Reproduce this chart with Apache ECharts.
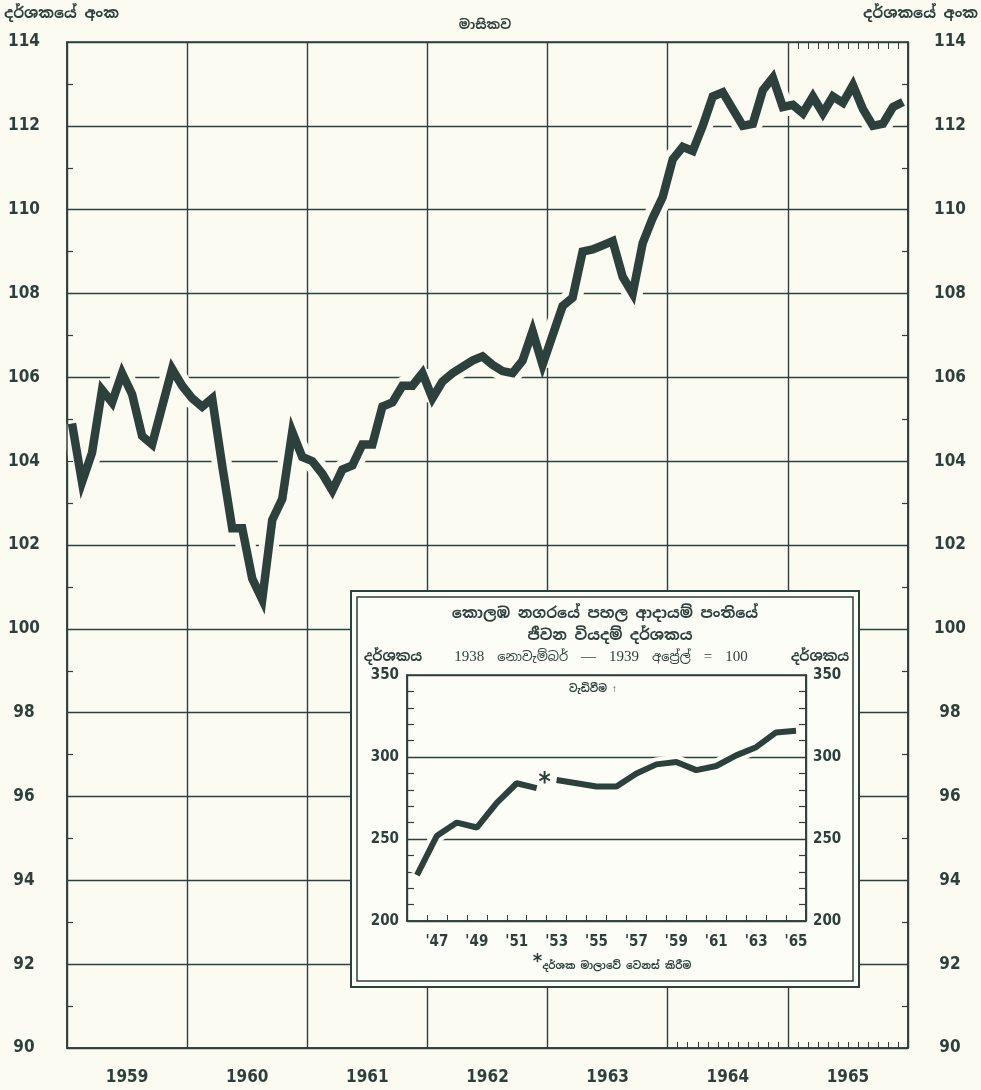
<!DOCTYPE html>
<html>
<head>
<meta charset="utf-8">
<script src="https://cdn.jsdelivr.net/npm/echarts@6/dist/echarts.min.js"></script>
<style>
  html, body { margin: 0; padding: 0; background: #fbfbf2; }
  #chart { width: 981px; height: 1090px; }
</style>
</head>
<body>
<div id="chart"></div>
<script>
// main chart: monthly index, 1959 - 1965
const years = ['1959', '1960', '1961', '1962', '1963', '1964', '1965'];
const monthNames = ['J', 'F', 'M', 'A', 'M', 'J', 'J', 'A', 'S', 'O', 'N', 'D'];
const months = years.flatMap(y => monthNames.map(m => y + '-' + m));

const monthlyIndex = [
  104.9, 103.5, 104.2, 105.7, 105.4, 106.1, 105.6, 104.6, 104.4, 105.3, 106.2, 105.8,
  105.5, 105.3, 105.5, 103.9, 102.4, 102.4, 101.2, 100.7, 102.6, 103.1, 104.7, 104.1,
  104.0, 103.7, 103.3, 103.8, 103.9, 104.4, 104.4, 105.3, 105.4, 105.8, 105.8, 106.1,
  105.5, 105.9, 106.1, 106.25, 106.4, 106.5, 106.3, 106.15, 106.1, 106.4, 107.1, 106.3,
  107.0, 107.7, 107.9, 109.0, 109.05, 109.15, 109.25, 108.4, 108.0, 109.2, 109.8, 110.3,
  111.2, 111.5, 111.4, 112.0, 112.7, 112.8, 112.4, 112.0, 112.05, 112.85, 113.15, 112.45,
  112.5, 112.3, 112.7, 112.3, 112.7, 112.55, 112.97, 112.4, 112.0, 112.05, 112.45, 112.57
];

// inset: yearly index, 1946 - 1965 (series revised after 1952)
const insetYears = ['1946', '1947', '1948', '1949', '1950', '1951', '1952', '1953', '1954', '1955',
  '1956', '1957', '1958', '1959', '1960', '1961', '1962', '1963', '1964', '1965'];
const insetOld = [228, 252, 260, 257, 272, 284, 281, null, null, null,
  null, null, null, null, null, null, null, null, null, null];
const insetNew = [null, null, null, null, null, null, null, 286, 284, 282,
  282, 290, 295.5, 297, 292, 294.5, 301, 306, 315, 316];

const ink = '#2c403c';
const paper = '#fbfbf2';
const boxPaper = '#fdfdf7';
const numFont = "'DejaVu Sans Condensed', 'DejaVu Sans', sans-serif";
const sinFont = "'Noto Sans Sinhala', 'Noto Sans', sans-serif";

const chart = echarts.init(document.getElementById('chart'));

// labelled axes sit above the line's white halo
const mainYAxis = (pos) => ({
  type: 'value',
  gridIndex: 0,
  position: pos,
  min: 90,
  max: 114,
  interval: 2,
  z: 5,
  axisLine: { show: true, lineStyle: { color: ink, width: 1.5 } },
  axisTick: { show: true, inside: true, length: 6, lineStyle: { color: ink } },
  minorTick: { show: true, splitNumber: 2, length: 6, lineStyle: { color: ink, width: 1.2 } },
  splitLine: { show: false },
  axisLabel: {
    color: ink, fontFamily: numFont, fontWeight: 'bold', fontSize: 17,
    align: 'center', margin: pos === 'left' ? 43 : 42
  }
});

const insetYAxis = (pos) => ({
  type: 'value',
  gridIndex: 1,
  position: pos,
  min: 200,
  max: 350,
  interval: 50,
  z: 20,
  axisLine: { show: true, lineStyle: { color: ink, width: 1.5 } },
  axisTick: { show: true, inside: true, length: 7, lineStyle: { color: ink } },
  minorTick: { show: true, splitNumber: 5, length: 7, lineStyle: { color: ink, width: 1.2 } },
  splitLine: { show: pos === 'left', lineStyle: { color: ink, width: 1.3 } },
  axisLabel: {
    color: ink, fontFamily: numFont, fontWeight: 'bold', fontSize: 15,
    margin: pos === 'left' ? 8 : 7
  }
});

const option = {
  backgroundColor: paper,
  animation: false,
  grid: [
    { left: 67, right: 73, top: 42, bottom: 42, show: true, borderColor: ink, borderWidth: 1.5 },
    { left: 407, right: 175, top: 675, bottom: 169, show: true, borderColor: ink, borderWidth: 1.5, z: 20 }
  ],
  xAxis: [
    {
      type: 'category', gridIndex: 0, data: years, boundaryGap: true,
      axisLine: { show: true, lineStyle: { color: ink, width: 1.5 } },
      axisTick: { show: false },
      splitLine: { show: true, interval: 0, lineStyle: { color: ink, width: 1.4 } },
      axisLabel: { color: ink, fontFamily: numFont, fontWeight: 'bold', fontSize: 17, margin: 21 }
    },
    {
      type: 'category', gridIndex: 0, data: months, boundaryGap: true, position: 'bottom',
      axisLine: { show: false },
      axisLabel: { show: false },
      axisTick: { show: true, inside: true, length: 6, interval: (i) => i >= 61, lineStyle: { color: ink } }
    },
    {
      type: 'category', gridIndex: 0, data: months, boundaryGap: true, position: 'top',
      axisLine: { show: false },
      axisLabel: { show: false },
      axisTick: { show: true, inside: true, length: 7, interval: (i) => i >= 73, lineStyle: { color: ink } }
    },
    {
      type: 'category', gridIndex: 1, data: insetYears, boundaryGap: true, z: 20,
      axisLine: { show: true, lineStyle: { color: ink, width: 1.5 } },
      axisTick: { show: true, inside: true, length: 6, interval: 0, lineStyle: { color: ink } },
      splitLine: { show: true, interval: (i) => i === 13, lineStyle: { color: ink, width: 1.4 } },
      axisLabel: {
        color: ink, fontFamily: numFont, fontWeight: 'bold', fontSize: 15, margin: 14,
        interval: (i, v) => (+v) % 2 === 1,
        formatter: (v) => "'" + v.slice(2)
      }
    }
  ],
  yAxis: [
    mainYAxis('left'),
    mainYAxis('right'),
    {
      // horizontal grid lines only, under the halo
      type: 'value', gridIndex: 0, min: 90, max: 114, interval: 2, z: 0,
      axisLine: { show: false }, axisTick: { show: false }, axisLabel: { show: false },
      splitLine: { show: true, lineStyle: { color: ink, width: 1.4 } }
    },
    insetYAxis('left'),
    insetYAxis('right')
  ],
  series: [
    {
      name: 'halo', type: 'line', xAxisIndex: 1, yAxisIndex: 0, data: monthlyIndex,
      symbol: 'none', silent: true, z: 2,
      lineStyle: { color: paper, width: 20, cap: 'butt' }
    },
    {
      name: 'monthly', type: 'line', xAxisIndex: 1, yAxisIndex: 0, data: monthlyIndex,
      symbol: 'none', z: 3,
      lineStyle: { color: ink, width: 8.5, join: 'miter' }
    },
    {
      name: 'insetHaloOld', type: 'line', xAxisIndex: 3, yAxisIndex: 3, data: insetOld,
      symbol: 'none', silent: true, z: 21,
      lineStyle: { color: boxPaper, width: 14 }
    },
    {
      name: 'insetHaloNew', type: 'line', xAxisIndex: 3, yAxisIndex: 3, data: insetNew,
      symbol: 'none', silent: true, z: 21,
      lineStyle: { color: boxPaper, width: 14 }
    },
    {
      name: 'old', type: 'line', xAxisIndex: 3, yAxisIndex: 3, data: insetOld,
      symbol: 'none', z: 22,
      lineStyle: { color: ink, width: 6 }
    },
    {
      name: 'new', type: 'line', xAxisIndex: 3, yAxisIndex: 3, z: 22,
      data: insetNew.map((v, i) => i === 7 ? {
        value: v,
        label: { show: true, position: 'left', distance: 6, offset: [0, 4], formatter: '*', color: ink, fontSize: 26, fontWeight: 'bold', fontFamily: numFont }
      } : v),
      symbol: 'circle',
      symbolSize: 0,
      showSymbol: true,
      lineStyle: { color: ink, width: 6 }
    }
  ],
  graphic: [
    // inset box with double border
    { type: 'rect', z: 10, shape: { x: 351, y: 591, width: 508, height: 396 },
      style: { fill: boxPaper, stroke: ink, lineWidth: 2 } },
    { type: 'rect', z: 11, shape: { x: 357, y: 597, width: 496, height: 384 },
      style: { fill: 'none', stroke: ink, lineWidth: 1.5 } },
    // top captions
    { type: 'text', z: 30, left: 4, top: 6,
      style: { text: 'දර්ශකයේ අංක', fill: ink, font: 'bold 15px ' + sinFont } },
    { type: 'text', z: 30, right: 3, top: 6,
      style: { text: 'දර්ශකයේ අංක', fill: ink, font: 'bold 15px ' + sinFont } },
    { type: 'text', z: 30, x: 485, y: 25,
      style: { text: 'මාසිකව', fill: ink, font: 'bold 13px ' + sinFont, align: 'center', verticalAlign: 'middle' } },
    // inset titles
    { type: 'text', z: 30, x: 605, y: 614,
      style: { text: 'කොලඹ නගරයේ පහල ආදායම් පංතියේ', fill: ink, font: 'bold 15px ' + sinFont, align: 'center', verticalAlign: 'middle' } },
    { type: 'text', z: 30, x: 610, y: 636,
      style: { text: 'ජීවන වියදම් දර්ශකය', fill: ink, font: 'bold 15px ' + sinFont, align: 'center', verticalAlign: 'middle' } },
    { type: 'text', z: 30, x: 393, y: 657,
      style: { text: 'දර්ශකය', fill: ink, font: 'bold 14px ' + sinFont, align: 'center', verticalAlign: 'middle' } },
    { type: 'text', z: 30, x: 820, y: 657,
      style: { text: 'දර්ශකය', fill: ink, font: 'bold 14px ' + sinFont, align: 'center', verticalAlign: 'middle' } },
    { type: 'text', z: 30, x: 601, y: 657,
      style: {
        text: '{n|1938}  නොවැම්බර්  {n|—}  {n|1939}  අප්‍රේල්  {n|=}  {n|100}',
        fill: ink, font: '13px ' + sinFont, align: 'center', verticalAlign: 'middle',
        rich: { n: { fontFamily: "'Liberation Serif', serif", fontSize: 15, fill: ink } }
      } },
    { type: 'text', z: 30, x: 593, y: 689,
      style: { text: 'වැඩිවීම ↑', fill: ink, font: 'bold 10px ' + sinFont, align: 'center', verticalAlign: 'middle' } },
    // footnote
    { type: 'text', z: 30, x: 612, y: 966,
      style: {
        text: '{a|*}දර්ශක මාලාවේ වෙනස් කිරීම',
        fill: ink, font: 'bold 10px ' + sinFont, align: 'center', verticalAlign: 'middle',
        rich: { a: { fontSize: 20, fontWeight: 'bold', fill: ink, fontFamily: numFont, padding: [0, 0, 8, 0] } }
      } }
  ]
};

chart.setOption(option);
</script>
</body>
</html>
